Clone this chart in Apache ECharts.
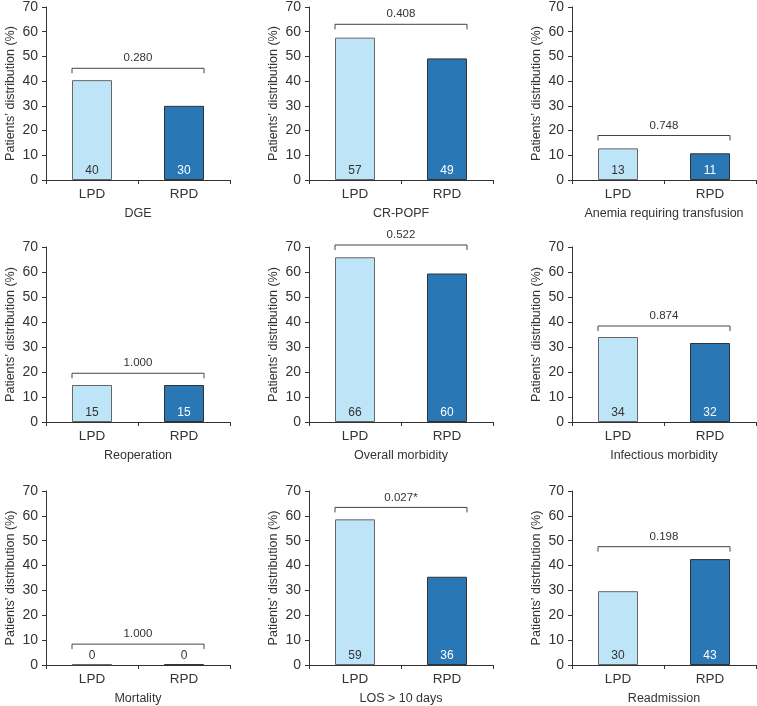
<!DOCTYPE html>
<html>
<head>
<meta charset="utf-8">
<title>LPD vs RPD outcomes</title>
<style>
  html, body { margin: 0; padding: 0; background: #fff; }
  #main { width: 757px; height: 706px; }
</style>
</head>
<body>
<div id="main"></div>
<script src="https://cdn.jsdelivr.net/npm/echarts@6/dist/echarts.min.js"></script>
<script>
// data
var groups = ['LPD', 'RPD'];
var panelTitles = ['DGE', 'CR-POPF', 'Anemia requiring transfusion',
                   'Reoperation', 'Overall morbidity', 'Infectious morbidity',
                   'Mortality', 'LOS > 10 days', 'Readmission'];
var lpdValues = [40.4, 57.6, 12.8, 14.8, 65.9, 34.0, 0.3, 58.6, 29.7];
var rpdValues = [30.0, 49.2, 10.8, 14.8, 59.4, 31.6, 0.3, 35.5, 42.6];
var lpdLabels = [40, 57, 13, 15, 66, 34, 0, 59, 30];
var rpdLabels = [30, 49, 11, 15, 60, 32, 0, 36, 43];
var pValues = ['0.280', '0.408', '0.748', '1.000', '0.522', '0.874', '1.000', '0.027*', '0.198'];
var bracketLevels = [45.2, 63.0, 18.0, 19.5, 70.8, 38.4, 8.4, 63.4, 47.6];
var yTicks = [0, 10, 20, 30, 40, 50, 60, 70];

var chart = echarts.init(document.getElementById('main'));

var FONT = 'Liberation Sans, Arial, sans-serif';
var colLeft = [46, 309, 572];
var rowTop = [5, 247, 491];
var BAR_W = 40;

var grids = [], xAxes = [], yAxes = [], series = [];

for (var i = 0; i < 9; i++) {
  var r = Math.floor(i / 3), c = i % 3;
  grids.push({ left: colLeft[c], top: rowTop[r], width: 184, height: 175 });

  xAxes.push({
    gridIndex: i,
    type: 'category',
    data: groups,
    boundaryGap: true,
    name: panelTitles[i],
    nameLocation: 'middle',
    nameGap: 27,
    nameTextStyle: { fontSize: 12.5, color: '#333', fontFamily: FONT },
    axisLine: { lineStyle: { color: '#333', width: 1 } },
    axisTick: { show: true, length: 4, lineStyle: { color: '#333' } },
    axisLabel: { fontSize: 13.5, color: '#333', margin: 7, fontFamily: FONT }
  });

  yAxes.push({
    gridIndex: i,
    type: 'value',
    min: yTicks[0],
    max: yTicks[yTicks.length - 1],
    interval: 10,
    name: 'Patients\u2019 distribution (%)',
    nameLocation: 'middle',
    nameRotate: 90,
    nameGap: 29,
    nameTextStyle: { fontSize: 12.5, color: '#333', fontFamily: FONT },
    axisLine: { show: true, lineStyle: { color: '#333', width: 1 } },
    axisTick: { show: true, length: 4, lineStyle: { color: '#333' } },
    axisLabel: { fontSize: 14, color: '#333', margin: 8, fontFamily: FONT },
    splitLine: { show: false }
  });

  (function (idx) {
    // labels sitting above a flat bar stay dark
    var rpdLabelColor = rpdValues[idx] > 5 ? '#fff' : '#333';
    series.push({
      type: 'bar',
      xAxisIndex: idx,
      yAxisIndex: idx,
      barWidth: BAR_W,
      data: [
        { value: lpdValues[idx], itemStyle: { color: '#bee4f8', borderColor: '#666', borderWidth: 1 },
          label: { color: '#333' } },
        { value: rpdValues[idx], itemStyle: { color: '#2977b4', borderColor: '#333', borderWidth: 1 },
          label: { color: rpdLabelColor } }
      ],
      label: {
        show: true,
        position: 'insideBottom',
        distance: 3,
        fontSize: 12,
        fontFamily: FONT,
        formatter: function (p) {
          return p.dataIndex === 0 ? lpdLabels[idx] : rpdLabels[idx];
        }
      },
      silent: true
    });

    // bracket with p value
    series.push({
      type: 'custom',
      xAxisIndex: idx,
      yAxisIndex: idx,
      data: [[0, bracketLevels[idx]]],
      silent: true,
      renderItem: function (params, api) {
        var lv = api.value(1);
        var a = api.coord([0, lv]);
        var b = api.coord([1, lv]);
        var x1 = a[0] - BAR_W / 2, x2 = b[0] + BAR_W / 2, y = a[1];
        return {
          type: 'group',
          children: [
            {
              type: 'polyline',
              shape: { points: [[x1, y + 5], [x1, y], [x2, y], [x2, y + 5]] },
              style: { stroke: '#444', lineWidth: 1, fill: null }
            },
            {
              type: 'text',
              style: {
                text: pValues[idx],
                x: (x1 + x2) / 2,
                y: y - 4,
                align: 'center',
                verticalAlign: 'bottom',
                fill: '#333',
                fontSize: 11.5,
                fontFamily: FONT
              }
            }
          ]
        };
      }
    });
  })(i);
}

chart.setOption({
  animation: false,
  grid: grids,
  xAxis: xAxes,
  yAxis: yAxes,
  series: series
});
</script>
</body>
</html>
